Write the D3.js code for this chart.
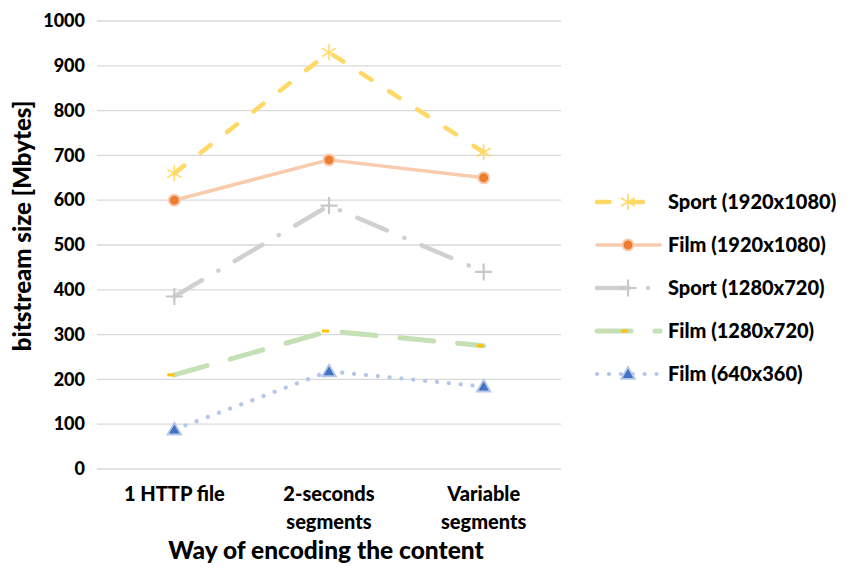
<!DOCTYPE html>
<html>
<head>
<meta charset="utf-8">
<script src="https://cdn.jsdelivr.net/npm/d3@7"></script>
<style>
  html, body { margin: 0; padding: 0; background: #fff; }
  svg text { font-family: Lato, "Open Sans", sans-serif; font-weight: 900; fill: #000; }
</style>
</head>
<body>
<svg id="chart" width="856" height="569"></svg>
<script>
// Encoding methods on the x axis (each may wrap onto two lines)
const categories = [["1 HTTP file"], ["2-seconds", "segments"], ["Variable", "segments"]];
const yTicks = [0, 100, 200, 300, 400, 500, 600, 700, 800, 900, 1000];

// Bitstream sizes in Mbytes, one array per content/resolution
const sport1080 = [660, 930, 707];
const film1080 = [600, 690, 650];
const sport720 = [385, 588, 440];
const film720 = [210, 308, 275];
const film360 = [88, 218, 184];

const seriesNames = ["Sport (1920x1080)", "Film (1920x1080)", "Sport (1280x720)", "Film (1280x720)", "Film (640x360)"];

const styles = [
  { values: sport1080, color: "#FFD966", width: 4.5, dash: "12.5 21", legendOffset: 0, marker: "star" },
  { values: film1080, color: "#F8CBAD", width: 3.5, dash: null, legendOffset: 0, marker: "circle" },
  { values: sport720, color: "#D0D0D0", width: 4.5, dash: "32 19 0.1 19", legendOffset: 0, marker: "plus" },
  { values: film720, color: "#C5E0B4", width: 5, dash: "34 24", legendOffset: 0, marker: "dash" },
  { values: film360, color: "#B4C7E7", width: 4.2, dash: "0.1 11.8", legendOffset: 0, marker: "triangle" }
];

const svg = d3.select("#chart");
const margin = { left: 97, right: 561, top: 21, bottom: 469 };

const x = d3.scaleBand()
  .domain(d3.range(categories.length))
  .range([margin.left, margin.right]);
const y = d3.scaleLinear().domain([0, 1000]).range([margin.bottom, margin.top]);

// Horizontal gridlines
svg.append("g").selectAll("line").data(yTicks).join("line")
  .attr("x1", margin.left).attr("x2", margin.right)
  .attr("y1", d => y(d)).attr("y2", d => y(d))
  .attr("stroke", "#D9D9D9").attr("stroke-width", 1.3);

// Y axis tick labels
const yAxis = d3.axisLeft(y).tickValues(yTicks).tickFormat(d3.format("d")).tickSize(0).tickPadding(12);
const yg = svg.append("g").attr("transform", `translate(${margin.left},0)`).call(yAxis);
yg.select(".domain").remove();
yg.selectAll("text").attr("font-size", 18).attr("font-family", "Lato, sans-serif").attr("font-weight", 900).attr("fill", "#000");

// X axis tick labels (multi-line)
const xg = svg.append("g");
categories.forEach((lines, i) => {
  const cx = x(i) + x.bandwidth() / 2;
  const t = xg.append("text")
    .attr("x", cx)
    .attr("y", 501)
    .attr("text-anchor", "middle")
    .attr("font-size", 20);
  lines.forEach((ln, k) => {
    t.append("tspan").attr("x", cx).attr("dy", k === 0 ? 0 : 27.5).text(ln);
  });
});

// Axis titles
svg.append("text")
  .attr("x", 326).attr("y", 559)
  .attr("text-anchor", "middle").attr("font-size", 24.5)
  .text("Way of encoding the content");
svg.append("text")
  .attr("transform", "translate(31,226) rotate(-90)")
  .attr("text-anchor", "middle").attr("font-size", 24)
  .text("bitstream size [Mbytes]");

// Marker drawing
function drawMarker(g, type, color) {
  if (type === "star") {
    const s = 8;
    const d = `M0,${-s}L0,${s}M${-s * 0.87},${-s * 0.5}L${s * 0.87},${s * 0.5}M${-s * 0.87},${s * 0.5}L${s * 0.87},${-s * 0.5}`;
    g.append("path").attr("d", d).attr("stroke", color).attr("stroke-width", 1.6).attr("fill", "none");
  } else if (type === "circle") {
    g.append("circle").attr("r", 5.5).attr("fill", "#ED7D31").attr("stroke", "#F8CBAD").attr("stroke-width", 2);
  } else if (type === "plus") {
    const s = 8.5;
    g.append("path").attr("d", `M${-s},0L${s},0M0,${-s}L0,${s}`)
      .attr("stroke", "#C8C8C8").attr("stroke-width", 2.2).attr("fill", "none");
  } else if (type === "dash") {
    g.append("rect").attr("x", -7).attr("y", -1.5).attr("width", 7).attr("height", 3)
      .attr("fill", "#FFC000");
  } else if (type === "triangle") {
    g.append("path").attr("d", d3.symbol().type(d3.symbolTriangle).size(80)())
      .attr("transform", "translate(0,1)")
      .attr("fill", "#4472C4").attr("stroke", "#B4C7E7").attr("stroke-width", 1.8);
  }
}

// Series lines and markers (drawn bottom series first so upper ones sit on top)
const line = d3.line().x((d, i) => x(i) + x.bandwidth() / 2).y(d => y(d));
const plot = svg.append("g");
styles.slice().reverse().forEach(s => {
  plot.append("path").datum(s.values)
    .attr("d", line)
    .attr("fill", "none")
    .attr("stroke", s.color)
    .attr("stroke-width", s.width)
    .attr("stroke-linecap", "round")
    .attr("stroke-linejoin", "round")
    .attr("stroke-dasharray", s.dash);
  s.values.forEach((v, i) => {
    const g = plot.append("g").attr("transform", `translate(${x(i) + x.bandwidth() / 2},${y(v)})`);
    drawMarker(g, s.marker, s.color);
  });
});

// Legend
const legend = svg.append("g");
styles.forEach((s, i) => {
  const ly = 202 + i * 43;
  const g = legend.append("g").attr("transform", `translate(0,${ly})`);
  g.append("line").attr("x1", 597).attr("x2", 660).attr("y1", 0).attr("y2", 0)
    .attr("stroke", s.color).attr("stroke-width", s.width)
    .attr("stroke-linecap", "round").attr("stroke-dasharray", s.dash)
    .attr("stroke-dashoffset", s.legendOffset);
  const mg = g.append("g").attr("transform", "translate(628,0)");
  drawMarker(mg, s.marker, s.color);
  g.append("text").attr("x", 668).attr("y", 0).attr("dy", "0.36em")
    .attr("font-size", 20).text(seriesNames[i]);
});
</script>
</body>
</html>
